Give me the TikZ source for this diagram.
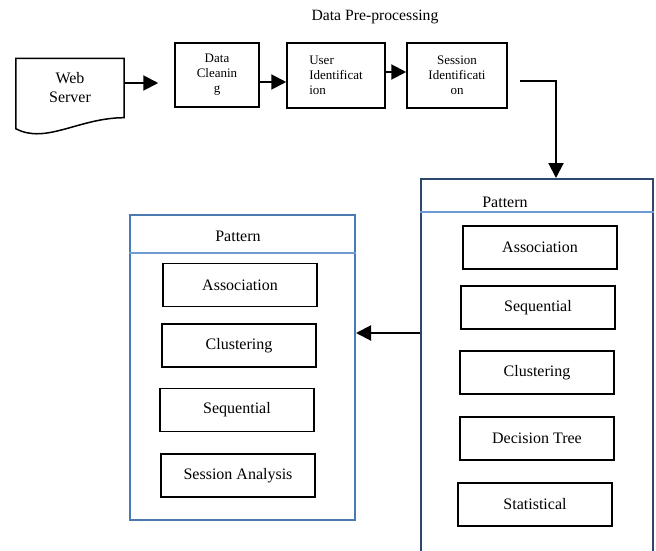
\documentclass[tikz,border=0pt]{standalone}
\usepackage{fontspec}
\setmainfont{Liberation Serif}
\usetikzlibrary{arrows.meta, positioning, calc}
\definecolor{leftframe}{RGB}{74,122,176}
\definecolor{rightframe}{RGB}{44,72,108}
\definecolor{headline}{RGB}{110,155,210}

\begin{document}
\begin{tikzpicture}[
    x=1pt, y=-1pt,
    stage/.style={draw, line width=1.5pt, minimum height=65pt, inner sep=2pt, font=\fontsize{13}{15}\selectfont, align=center},
    method/.style={draw, line width=1.4pt, minimum width=154pt, minimum height=43pt, font=\fontsize{16}{19}\selectfont},
    frame/.style={draw, line width=2pt, minimum width=#1},
    flow/.style={-{Triangle[length=15pt, width=15pt]}, line width=2pt}
]
    \clip (0,0) rectangle (656,551);

    % Pre-processing
    \node[font=\fontsize{15.7}{18}\selectfont] (title) at (375,17) {Data Pre-processing};
    \node[font=\fontsize{16}{19}\selectfont, align=center, minimum width=108pt, minimum height=59pt] (websrv) at (70,88) {Web\\Server};
    \draw[line width=1.5pt] (websrv.south east) .. controls +(-45,0) and +(30,16) .. ([yshift=-11pt]websrv.south west)
        -- (websrv.north west) -- (websrv.north east) -- cycle;
    \node[stage, minimum width=84pt, minimum height=64pt] (datacl) at (217,75) {Data\\Cleanin\\g};
    \node[stage, minimum width=98pt, align=left] (userid) at (336,75.5) {User\\Identificat\\ion};
    \node[stage, minimum width=100pt] (sessid) at (457,75.5) {Session\\Identificati\\on};

    % Pattern frames
    \node[frame=232pt, draw=rightframe, minimum height=390pt] (patR) at (537,374) {};
    \draw[headline, line width=1.2pt] ([yshift=-34pt]patR.north west) -- ([yshift=-34pt]patR.north east);
    \node[font=\fontsize{16}{19}\selectfont] (headR) at (505,202) {Pattern};
    \node[frame=225pt, draw=leftframe, minimum height=305pt] (patL) at (242.5,367.5) {};
    \draw[headline, line width=1.2pt] ([yshift=-39pt]patL.north west) -- ([yshift=-39pt]patL.north east);
    \node[font=\fontsize{16}{19}\selectfont] (headL) at (238,236) {Pattern};

    % Methods
    \node[method] (assocR) at (540,247.5) {Association};
    \node[method] (seqR) at (538,307.5) {Sequential};
    \node[method] (clustR) at (537,372.5) {Clustering};
    \node[method] (treeR) at (537,438.5) {Decision Tree};
    \node[method] (statR) at (535,504.5) {Statistical};
    \node[method] (assocL) at (240,285) {Association};
    \node[method] (clustL) at (239,345.5) {Clustering};
    \node[method] (seqL) at (237,410) {Sequential};
    \node[method] (sessL) at (238,475.5) {Session Analysis};

    % Flow
    \coordinate (wsout) at ([yshift=5pt]websrv.east);
    \coordinate (dcout) at ([yshift=-7pt]datacl.east);
    \coordinate (uiout) at ([yshift=3.5pt]userid.east);
    \coordinate (siout) at ([yshift=-5.5pt]sessid.east);
    \coordinate (corner) at (556,81);
    \coordinate (ret) at (0,333);
    \draw[flow, shorten >=16pt] (wsout) -- (wsout -| datacl.west);
    \draw[flow] (dcout) -- (dcout -| userid.west);
    \draw[flow] (uiout) -- (uiout -| sessid.west);
    \draw[flow, shorten <=12pt] (siout) -- (corner) -- (corner |- patR.north);
    \draw[flow] (patR.west |- ret) -- (patL.east |- ret);
\end{tikzpicture}
\end{document}
